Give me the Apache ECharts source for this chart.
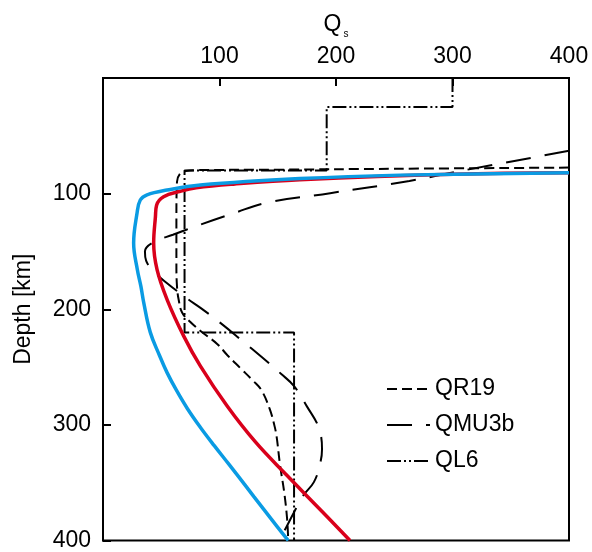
<!DOCTYPE html>
<html>
<head>
<meta charset="utf-8">
<script src="https://cdn.jsdelivr.net/npm/echarts@6/dist/echarts.min.js"></script>
<style>
html,body{margin:0;padding:0;background:#fff;}
#chart{width:592px;height:552px;}
</style>
</head>
<body>
<div id="chart"></div>
<script>
// ---- data (Qs vs depth in km) ----
const X_TICKS = [0, 100, 200, 300, 400];
const Y_TICKS = [0, 100, 200, 300, 400];

const QR19_Q     = [400, 250, 150, 80, 71, 66, 63.5, 63, 63, 63.5, 65, 68, 75, 84, 98, 107, 118, 129, 136, 143, 147, 149, 152, 155.5, 158, 159];
const QR19_DEPTH = [77.5, 78.5, 79.3, 79.7, 80.5, 83, 90, 120, 160, 180, 192, 203, 211, 219, 230, 240, 251, 262, 270, 286, 300, 310, 335, 358, 381, 400];

const QMU3B_Q     = [400, 309, 263, 195, 140, 112, 83, 60, 43.5, 36, 37, 45, 55, 72, 84, 101, 118, 137, 153, 164, 175, 185, 188, 186, 181, 172, 164, 152, 149];
const QMU3B_DEPTH = [63, 80, 89, 99.6, 108, 117, 127, 135.6, 142, 150, 158, 168.6, 177.5, 190.6, 199, 212, 226, 242, 256, 266.5, 284, 302, 321, 335, 349.5, 361, 375.5, 398, 400];

const QL6_Q     = [300, 300, 192, 192, 70, 70, 164, 164];
const QL6_DEPTH = [0, 25, 25, 80, 80, 220, 220, 400];

const RED_Q     = [400, 300, 169, 112, 80, 66.4, 52, 46, 45, 43.5, 46.4, 55, 69.2, 83.5, 106.4, 131, 158, 183, 212];
const RED_DEPTH = [82, 83.3, 88, 91.8, 95, 98, 102.7, 110, 120, 142.8, 165.8, 191.6, 223, 249, 283.5, 315, 343.8, 369.7, 400];

const BLUE_Q     = [400, 255, 169, 83.5, 55, 37.8, 32, 29.2, 26.3, 29.5, 32.5, 35, 40.6, 48.5, 55, 63, 72.5, 83.5, 95.5, 108, 120, 129.5, 139.5, 149.5, 159];
const BLUE_DEPTH = [82, 84, 87, 92.6, 96.9, 101, 105.5, 117, 142.8, 165.8, 180, 194.5, 220, 240, 254.8, 270, 286, 302, 318, 334, 349.5, 362, 375, 388, 400];

const LEGEND_NAMES = ['QR19', 'QMU3b', 'QL6'];

function zip(a, b) { return a.map((v, i) => [v, b[i]]); }

const chart = echarts.init(document.getElementById('chart'), null, {renderer: 'canvas'});
const FONT = 'Liberation Sans, Arial, sans-serif';
const blackLine = (type) => ({color: '#000', width: 2, type: type});

chart.setOption({
  animation: false,
  backgroundColor: '#fff',
  textStyle: {fontFamily: FONT},
  grid: {left: 103, right: 23, top: 78, bottom: 10, show: true, borderColor: '#000', borderWidth: 2, backgroundColor: 'transparent'},
  legend: {
    data: LEGEND_NAMES,
    orient: 'vertical',
    left: 381,
    top: 372,
    itemWidth: 43,
    itemHeight: 14,
    itemGap: 12,
    itemStyle: {opacity: 0, borderWidth: 0},
    textStyle: {fontSize: 23, color: '#000', fontFamily: FONT, lineHeight: 24},
    inactiveColor: '#000'
  },
  xAxis: {
    type: 'value',
    position: 'top',
    min: X_TICKS[0],
    max: X_TICKS[X_TICKS.length - 1],
    interval: 100,
    name: '{q|Q}{s|s}',
    nameLocation: 'middle',
    nameGap: 39,
    nameTextStyle: {
      rich: {
        q: {fontSize: 23, color: '#000', fontFamily: FONT},
        s: {fontSize: 10, color: '#000', fontFamily: FONT, padding: [18, 0, 0, 2]}
      }
    },
    axisLine: {show: true, onZero: false, lineStyle: {color: '#000', width: 2}},
    axisTick: {show: true, inside: true, length: 8, lineStyle: {color: '#000', width: 2}},
    axisLabel: {fontSize: 23, color: '#000', margin: 10, fontFamily: FONT,
      formatter: v => (v === 0 ? '' : String(v))},
    splitLine: {show: false}
  },
  yAxis: {
    type: 'value',
    inverse: true,
    min: Y_TICKS[0],
    max: Y_TICKS[Y_TICKS.length - 1],
    interval: 100,
    name: 'Depth [km]',
    nameLocation: 'middle',
    nameGap: 68,
    nameTextStyle: {fontSize: 23, color: '#000', fontFamily: FONT},
    axisLine: {show: true, onZero: false, lineStyle: {color: '#000', width: 2}},
    axisTick: {show: true, inside: true, length: 8, lineStyle: {color: '#000', width: 2}},
    axisLabel: {fontSize: 23, color: '#000', margin: 12, fontFamily: FONT,
      formatter: v => (v === 0 ? '' : String(v))},
    splitLine: {show: false}
  },
  series: [
    {name: 'QR19', type: 'line', data: zip(QR19_Q, QR19_DEPTH), smooth: 0.4, showSymbol: false, symbol: 'none',
      lineStyle: blackLine([10, 5]), itemStyle: {color: '#000'}, clip: true},
    {name: 'QMU3b', type: 'line', data: zip(QMU3B_Q, QMU3B_DEPTH), smooth: 0.4, showSymbol: false, symbol: 'none',
      lineStyle: blackLine([25, 14]), itemStyle: {color: '#000'}, clip: true},
    {name: 'QL6', type: 'line', data: zip(QL6_Q, QL6_DEPTH), smooth: false, showSymbol: false, symbol: 'none',
      lineStyle: blackLine([14, 3, 2, 3, 2, 3]), itemStyle: {color: '#000'}, clip: true},
    {name: 'red', type: 'line', data: zip(RED_Q, RED_DEPTH), smooth: 0.4, showSymbol: false, symbol: 'none',
      lineStyle: {color: '#d9001b', width: 3.5}, itemStyle: {color: '#d9001b'}, clip: true},
    {name: 'blue', type: 'line', data: zip(BLUE_Q, BLUE_DEPTH), smooth: 0.4, showSymbol: false, symbol: 'none',
      lineStyle: {color: '#0a9be3', width: 3.5}, itemStyle: {color: '#0a9be3'}, clip: true}
  ]
});
</script>
</body>
</html>
